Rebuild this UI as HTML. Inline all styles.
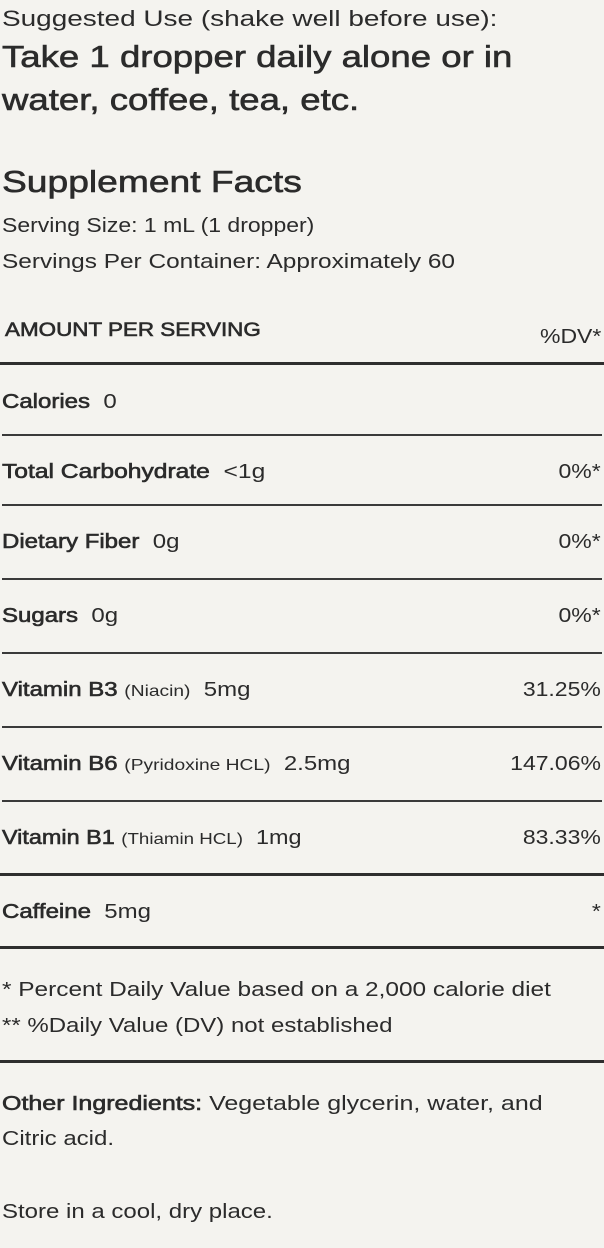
<!DOCTYPE html>
<html><head><meta charset="utf-8"><style>
html,body{margin:0;padding:0;background:#f4f3ef;}
body{width:604px;height:1248px;position:relative;overflow:hidden;font-family:"Liberation Sans",sans-serif;color:#2b2b2b;}
.t{position:absolute;left:2px;white-space:nowrap;line-height:30px;height:30px;transform-origin:left center;transform:scaleX(1.2);}
.r{position:absolute;right:3px;white-space:nowrap;line-height:30px;height:30px;font-size:20px;transform-origin:right center;transform:scaleX(1.15);}
.thin{position:absolute;left:2px;right:2px;height:1.5px;background:#3a3a3a;}
.thick{position:absolute;left:0;right:0;height:3px;background:#2e2e2e;}
.row{font-size:20px;}
b,.m{font-weight:normal;-webkit-text-stroke:0.6px #2b2b2b;}
.row small{font-size:16px;}
</style></head><body>
<div class="t" style="top:4px;font-size:22px;transform:scaleX(1.27);">Suggested Use (shake well before use):</div>
<div class="t m" style="top:42px;font-size:31px;transform:scaleX(1.18);">Take 1 dropper daily alone or in</div>
<div class="t m" style="top:85px;font-size:31px;transform:scaleX(1.18);">water, coffee, tea, etc.</div>
<div class="t m" style="top:167px;font-size:31px;">Supplement Facts</div>
<div class="t" style="top:211px;font-size:20px;transform:scaleX(1.15);">Serving Size: 1 mL (1 dropper)</div>
<div class="t" style="top:247px;font-size:20px;transform:scaleX(1.22);">Servings Per Container: Approximately 60</div>
<div class="t m" style="top:316px;left:5px;font-size:19px;transform:scaleX(1.18);">AMOUNT PER SERVING</div>
<div class="r" style="top:322px;">%DV*</div>
<div class="thick" style="top:362px;"></div>
<div class="t row" style="top:387px;"><b>Calories</b>&nbsp; 0</div>
<div class="thin" style="top:434px;"></div>
<div class="t row" style="top:457px;transform:scaleX(1.23);"><b>Total Carbohydrate</b>&nbsp; &lt;1g</div><div class="r" style="top:457px;">0%*</div>
<div class="thin" style="top:504px;"></div>
<div class="t row" style="top:527px;"><b>Dietary Fiber</b>&nbsp; 0g</div><div class="r" style="top:527px;">0%*</div>
<div class="thin" style="top:578px;"></div>
<div class="t row" style="top:601px;"><b>Sugars</b>&nbsp; 0g</div><div class="r" style="top:601px;">0%*</div>
<div class="thin" style="top:652px;"></div>
<div class="t row" style="top:675px;"><b>Vitamin B3</b> <small>(Niacin)</small>&nbsp; 5mg</div><div class="r" style="top:675px;">31.25%</div>
<div class="thin" style="top:726px;"></div>
<div class="t row" style="top:749px;"><b>Vitamin B6</b> <small>(Pyridoxine HCL)</small>&nbsp; 2.5mg</div><div class="r" style="top:749px;">147.06%</div>
<div class="thin" style="top:800px;"></div>
<div class="t row" style="top:823px;transform:scaleX(1.17);"><b>Vitamin B1</b> <small>(Thiamin HCL)</small>&nbsp; 1mg</div><div class="r" style="top:823px;">83.33%</div>
<div class="thick" style="top:873px;"></div>
<div class="t row" style="top:897px;"><b>Caffeine</b>&nbsp; 5mg</div><div class="r" style="top:897px;">*</div>
<div class="thick" style="top:946px;"></div>
<div class="t" style="top:975px;font-size:20px;transform:scaleX(1.22);">* Percent Daily Value based on a 2,000 calorie diet</div>
<div class="t" style="top:1011px;font-size:20px;">** %Daily Value (DV) not established</div>
<div class="thick" style="top:1060px;"></div>
<div class="t" style="top:1089px;font-size:20px;transform:scaleX(1.25);"><b>Other Ingredients:</b> Vegetable glycerin, water, and</div>
<div class="t" style="top:1124px;font-size:20px;">Citric acid.</div>
<div class="t" style="top:1197px;font-size:20px;">Store in a cool, dry place.</div>
</body></html>
